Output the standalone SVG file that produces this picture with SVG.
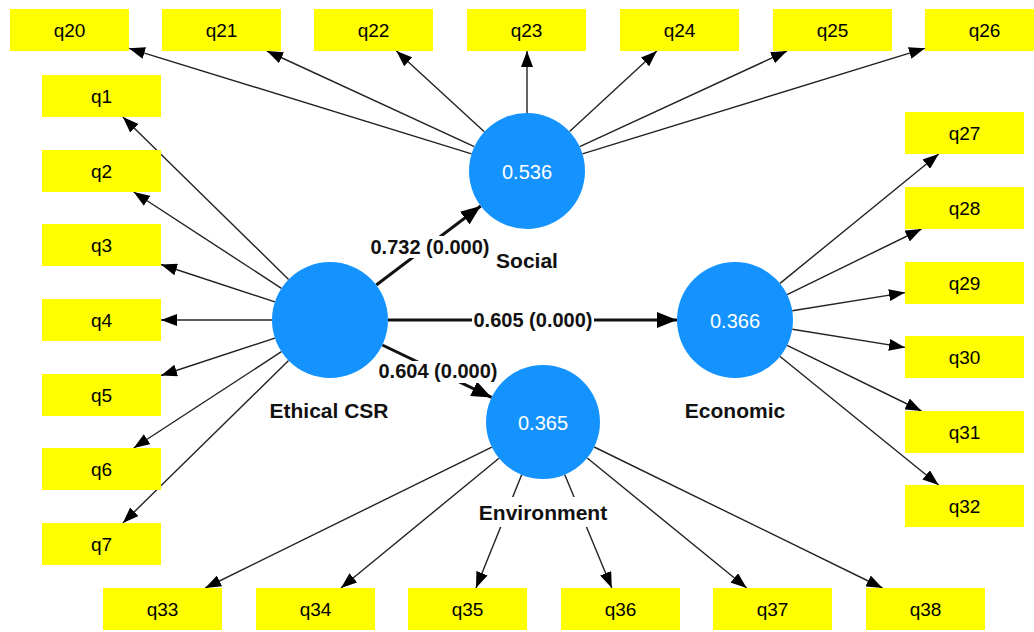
<svg xmlns="http://www.w3.org/2000/svg" width="1034" height="632" viewBox="0 0 1034 632">
<style>
.box{fill:#ffff00}
.bt{font-family:"Liberation Sans",Arial,sans-serif;font-size:19px;fill:#000;text-anchor:middle}
.lv{fill:#1493ff}
.vt{font-family:"Liberation Sans",Arial,sans-serif;font-size:20px;fill:#fff;text-anchor:middle}
.nm{font-family:"Liberation Sans",Arial,sans-serif;font-size:21px;font-weight:bold;fill:#111;text-anchor:middle}
.pl{font-family:"Liberation Sans",Arial,sans-serif;font-size:20px;font-weight:bold;fill:#111;text-anchor:middle}
.ln{stroke:#222;stroke-width:1.4;fill:none;marker-end:url(#ah)}
.th{stroke:#111;stroke-width:3;fill:none;marker-end:url(#ahb)}
.lb{fill:#fff}
</style>
<defs>
<marker id="ah" markerUnits="userSpaceOnUse" markerWidth="16" markerHeight="12" viewBox="0 0 16 12" refX="16" refY="6" orient="auto"><path d="M0,0 L16,6 L0,12 z" fill="#000"/></marker>
<marker id="ahb" markerUnits="userSpaceOnUse" markerWidth="20" markerHeight="16" viewBox="0 0 20 16" refX="20" refY="8" orient="auto"><path d="M0,0 L20,8 L0,16 z" fill="#000"/></marker>
</defs>
<rect width="1034" height="632" fill="#fff"/>
<g id="connectors">
<line class="ln" x1="288.6" y1="279.4" x2="122.9" y2="117"/>
<line class="ln" x1="281.4" y1="288.3" x2="133.7" y2="192"/>
<line class="ln" x1="274.9" y1="301.9" x2="161" y2="264.5"/>
<line class="ln" x1="272" y1="320" x2="161" y2="320"/>
<line class="ln" x1="274.9" y1="338.1" x2="161" y2="375.5"/>
<line class="ln" x1="281.4" y1="351.7" x2="133.7" y2="448"/>
<line class="ln" x1="288.6" y1="360.6" x2="122.9" y2="523"/>
<line class="ln" x1="471.6" y1="153.9" x2="129" y2="48.3"/>
<line class="ln" x1="474.3" y1="146.7" x2="267" y2="51"/>
<line class="ln" x1="484.3" y1="131.8" x2="396.4" y2="51"/>
<line class="ln" x1="527" y1="113" x2="527" y2="51"/>
<line class="ln" x1="569.6" y1="131.6" x2="656.8" y2="51"/>
<line class="ln" x1="579.7" y1="146.7" x2="787" y2="51"/>
<line class="ln" x1="582.4" y1="153.9" x2="925" y2="48.3"/>
<line class="ln" x1="780" y1="283.4" x2="938.7" y2="154"/>
<line class="ln" x1="787.1" y1="294.6" x2="921.5" y2="229"/>
<line class="ln" x1="792.3" y1="310.8" x2="905" y2="292.6"/>
<line class="ln" x1="792.3" y1="329.2" x2="905" y2="347.4"/>
<line class="ln" x1="787.1" y1="345.4" x2="921.5" y2="411"/>
<line class="ln" x1="780.1" y1="356.5" x2="938.6" y2="485"/>
<line class="ln" x1="491.8" y1="447.1" x2="205.2" y2="588"/>
<line class="ln" x1="499" y1="458.2" x2="341" y2="588"/>
<line class="ln" x1="521.7" y1="474.8" x2="476" y2="588"/>
<line class="ln" x1="564.8" y1="474.7" x2="611.8" y2="588"/>
<line class="ln" x1="587.2" y1="458" x2="746.7" y2="588"/>
<line class="ln" x1="594.2" y1="447" x2="882.5" y2="588"/>
<line class="th" x1="376.3" y1="285" x2="480.7" y2="206"/>
<line class="th" x1="388" y1="320" x2="677" y2="320"/>
<line class="th" x1="382.3" y1="345" x2="491.6" y2="397.4"/>
<rect class="lb" x="369" y="236" width="122" height="22"/>
<text class="pl" x="430" y="254">0.732 (0.000)</text>
<rect class="lb" x="472" y="309" width="122" height="22"/>
<text class="pl" x="533" y="327">0.605 (0.000)</text>
<rect class="lb" x="377" y="361" width="122" height="22"/>
<text class="pl" x="438" y="378">0.604 (0.000)</text>
</g>
<g id="ethical"><circle class="lv" cx="330" cy="320" r="58"/><text class="nm" x="329" y="418">Ethical CSR</text></g>
<g id="social"><circle class="lv" cx="527" cy="171" r="58"/><text class="vt" x="527" y="179">0.536</text><text class="nm" x="527" y="268">Social</text></g>
<g id="economic"><circle class="lv" cx="735" cy="320" r="58"/><text class="vt" x="735" y="328">0.366</text><text class="nm" x="735" y="418">Economic</text></g>
<g id="environment"><circle class="lv" cx="543" cy="422" r="57"/><text class="vt" x="543" y="430">0.365</text><rect class="lb" x="476" y="497" width="135" height="30"/><text class="nm" x="543" y="520">Environment</text></g>
<g id="q20"><rect class="box" x="10" y="9" width="119" height="42"/><text class="bt" x="69.5" y="37">q20</text></g>
<g id="q21"><rect class="box" x="162" y="9" width="119" height="42"/><text class="bt" x="221.5" y="37">q21</text></g>
<g id="q22"><rect class="box" x="314" y="9" width="119" height="42"/><text class="bt" x="373.5" y="37">q22</text></g>
<g id="q23"><rect class="box" x="467" y="9" width="119" height="42"/><text class="bt" x="526.5" y="37">q23</text></g>
<g id="q24"><rect class="box" x="620" y="9" width="119" height="42"/><text class="bt" x="679.5" y="37">q24</text></g>
<g id="q25"><rect class="box" x="773" y="9" width="119" height="42"/><text class="bt" x="832.5" y="37">q25</text></g>
<g id="q26"><rect class="box" x="925" y="9" width="119" height="42"/><text class="bt" x="984.5" y="37">q26</text></g>
<g id="q1"><rect class="box" x="42" y="75" width="119" height="42"/><text class="bt" x="101.5" y="103">q1</text></g>
<g id="q2"><rect class="box" x="42" y="150" width="119" height="42"/><text class="bt" x="101.5" y="178">q2</text></g>
<g id="q3"><rect class="box" x="42" y="224" width="119" height="42"/><text class="bt" x="101.5" y="252">q3</text></g>
<g id="q4"><rect class="box" x="42" y="299" width="119" height="42"/><text class="bt" x="101.5" y="327">q4</text></g>
<g id="q5"><rect class="box" x="42" y="374" width="119" height="42"/><text class="bt" x="101.5" y="402">q5</text></g>
<g id="q6"><rect class="box" x="42" y="448" width="119" height="42"/><text class="bt" x="101.5" y="476">q6</text></g>
<g id="q7"><rect class="box" x="42" y="523" width="119" height="42"/><text class="bt" x="101.5" y="551">q7</text></g>
<g id="q27"><rect class="box" x="905" y="112" width="119" height="42"/><text class="bt" x="964.5" y="140">q27</text></g>
<g id="q28"><rect class="box" x="905" y="187" width="119" height="42"/><text class="bt" x="964.5" y="215">q28</text></g>
<g id="q29"><rect class="box" x="905" y="262" width="119" height="42"/><text class="bt" x="964.5" y="290">q29</text></g>
<g id="q30"><rect class="box" x="905" y="336" width="119" height="42"/><text class="bt" x="964.5" y="364">q30</text></g>
<g id="q31"><rect class="box" x="905" y="411" width="119" height="42"/><text class="bt" x="964.5" y="439">q31</text></g>
<g id="q32"><rect class="box" x="905" y="485" width="119" height="42"/><text class="bt" x="964.5" y="513">q32</text></g>
<g id="q33"><rect class="box" x="103" y="588" width="119" height="42"/><text class="bt" x="162.5" y="616">q33</text></g>
<g id="q34"><rect class="box" x="256" y="588" width="119" height="42"/><text class="bt" x="315.5" y="616">q34</text></g>
<g id="q35"><rect class="box" x="408" y="588" width="119" height="42"/><text class="bt" x="467.5" y="616">q35</text></g>
<g id="q36"><rect class="box" x="561" y="588" width="119" height="42"/><text class="bt" x="620.5" y="616">q36</text></g>
<g id="q37"><rect class="box" x="713" y="588" width="119" height="42"/><text class="bt" x="772.5" y="616">q37</text></g>
<g id="q38"><rect class="box" x="866" y="588" width="119" height="42"/><text class="bt" x="925.5" y="616">q38</text></g>
</svg>
